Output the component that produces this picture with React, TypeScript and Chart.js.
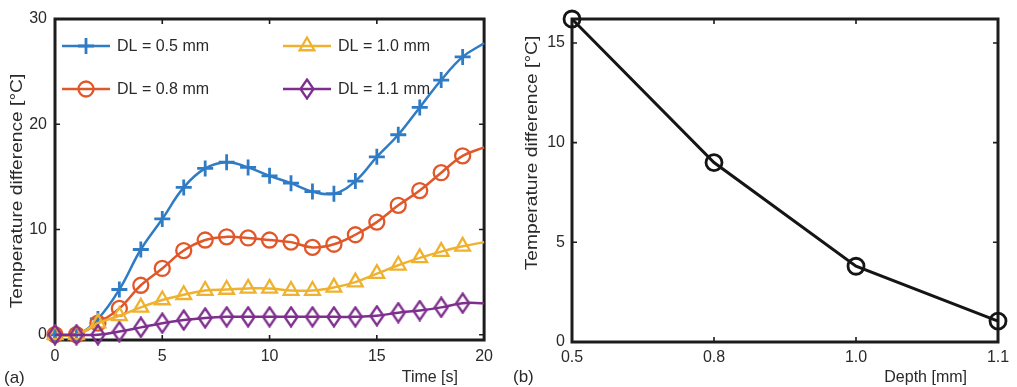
import React, { useEffect, useRef } from 'react';
import { Chart, registerables } from 'chart.js';
import { drawPoint } from 'chart.js/helpers';

Chart.register(...registerables);

// ---------- data ----------
const timeSeconds = [0, 1, 2, 3, 4, 5, 6, 7, 8, 9, 10, 11, 12, 13, 14, 15, 16, 17, 18, 19, 20];
const dl05 = [0, 0, 1.5, 4.3, 8.1, 11.0, 14.0, 15.8, 16.4, 15.9, 15.1, 14.4, 13.6, 13.4, 14.6, 16.9, 19.0, 21.6, 24.2, 26.4, 27.7];
const dl08 = [0, 0, 1.1, 2.5, 4.7, 6.3, 8.0, 9.0, 9.3, 9.2, 9.0, 8.8, 8.3, 8.6, 9.5, 10.7, 12.3, 13.7, 15.4, 17.0, 17.8];
const dl10 = [0, 0, 1.1, 1.8, 2.6, 3.3, 3.8, 4.2, 4.3, 4.4, 4.4, 4.2, 4.2, 4.5, 5.0, 5.8, 6.6, 7.3, 7.9, 8.4, 8.8];
const dl11 = [0, 0, 0, 0.3, 0.7, 1.1, 1.4, 1.6, 1.7, 1.7, 1.7, 1.7, 1.7, 1.7, 1.7, 1.8, 2.1, 2.3, 2.6, 3.0, 3.0];
const seriesLabels = ['DL = 0.5 mm', 'DL = 0.8 mm', 'DL = 1.0 mm', 'DL = 1.1 mm'];
const timeTicks = [0, 5, 10, 15, 20];
const tempTicksA = [0, 10, 20, 30];

const depthLabels = ['0.5', '0.8', '1.0', '1.1'];
const depthTempDiff = [16.2, 9.0, 3.8, 1.05];
const tempTicksB = [0, 5, 10, 15];

// ---------- styles ----------
const FONT = "'Liberation Sans', Arial, sans-serif";
const TEXT = '#2a2a2a';
const FRAME = '#1c1c1c';
const COLORS = ['#2f7bc4', '#e0572a', '#efb22e', '#7e2f8e'];

function makeDiamond(color: string) {
  const c = document.createElement('canvas');
  c.width = 16;
  c.height = 22;
  const g = c.getContext('2d')!;
  g.strokeStyle = color;
  g.lineWidth = 2.3;
  g.beginPath();
  g.moveTo(8, 1.5);
  g.lineTo(14.5, 11);
  g.lineTo(8, 20.5);
  g.lineTo(1.5, 11);
  g.closePath();
  g.stroke();
  return c;
}

const framePlugin = {
  id: 'frame',
  beforeDatasetsDraw(chart: any) {
    const { ctx, chartArea: a, scales } = chart;
    ctx.save();
    ctx.strokeStyle = FRAME;
    ctx.lineWidth = 1.6;
    const tl = 5;
    ctx.beginPath();
    for (const t of scales.x.ticks) {
      const px = scales.x.getPixelForValue(t.value);
      ctx.moveTo(px, a.bottom);
      ctx.lineTo(px, a.bottom - tl);
      ctx.moveTo(px, a.top);
      ctx.lineTo(px, a.top + tl);
    }
    for (const t of scales.y.ticks) {
      const py = scales.y.getPixelForValue(t.value);
      ctx.moveTo(a.left, py);
      ctx.lineTo(a.left + tl, py);
      ctx.moveTo(a.right, py);
      ctx.lineTo(a.right - tl, py);
    }
    ctx.stroke();
    ctx.lineWidth = 3;
    ctx.strokeRect(a.left, a.top, a.right - a.left, a.bottom - a.top);
    ctx.restore();
  },
};

const textsPlugin = {
  id: 'texts',
  afterDraw(chart: any, _args: any, opts: any) {
    const { ctx } = chart;
    for (const it of opts.items || []) {
      ctx.save();
      ctx.font = `${it.size || 16}px ${FONT}`;
      ctx.fillStyle = TEXT;
      ctx.textAlign = it.align || 'left';
      ctx.textBaseline = 'middle';
      ctx.translate(it.x, it.y);
      if (it.rotate) ctx.rotate(-Math.PI / 2);
      if (it.stretch) ctx.scale(it.stretch, 1);
      ctx.fillText(it.text, 0, 0);
      ctx.restore();
    }
  },
};

const legendPlugin = {
  id: 'inlegend',
  afterDatasetsDraw(chart: any, _args: any, opts: any) {
    const { ctx } = chart;
    (opts.items || []).forEach((it: any) => {
      const ds = chart.data.datasets[it.index];
      ctx.save();
      ctx.strokeStyle = ds.borderColor;
      ctx.lineWidth = ds.borderWidth;
      ctx.beginPath();
      ctx.moveTo(it.x, it.y);
      ctx.lineTo(it.x + 48, it.y);
      ctx.stroke();
      ctx.fillStyle = 'rgba(0,0,0,0)';
      ctx.lineWidth = ds.pointBorderWidth;
      drawPoint(ctx, { pointStyle: ds.pointStyle, radius: ds.legendRadius, borderWidth: ds.pointBorderWidth, rotation: 0 } as any, it.x + 24, it.y);
      ctx.font = `16px ${FONT}`;
      ctx.fillStyle = TEXT;
      ctx.textBaseline = 'middle';
      ctx.fillText(ds.label, it.x + 55, it.y + 1);
      ctx.restore();
    });
  },
};

const tickFont = { family: FONT, size: 16 };

export default function App() {
  const leftRef = useRef<HTMLCanvasElement>(null);
  const rightRef = useRef<HTMLCanvasElement>(null);

  useEffect(() => {
    const last = timeSeconds.length - 1;
    const diamond = makeDiamond(COLORS[3]);
    const styles: any[] = ['cross', 'circle', 'triangle', diamond];
    const radii = [8, 7.5, 8.5, 8];
    const values = [dl05, dl08, dl10, dl11];

    const left = new Chart(leftRef.current!, {
      type: 'line',
      data: {
        datasets: values.map((arr, i) => ({
          label: seriesLabels[i],
          data: timeSeconds.map((t, j) => ({ x: t, y: arr[j] })),
          borderColor: COLORS[i],
          backgroundColor: 'rgba(0,0,0,0)',
          pointBorderColor: COLORS[i],
          pointBackgroundColor: 'rgba(0,0,0,0)',
          borderWidth: 2.5,
          pointBorderWidth: i === 0 ? 2.8 : 2.3,
          pointStyle: styles[i],
          pointRadius: (c: any) => (c.dataIndex === last ? 0 : radii[i]),
          legendRadius: radii[i],
          tension: 0.4,
          clip: false,
          order: 3 - i,
        })) as any,
      },
      options: {
        responsive: false,
        animation: false,
        events: [],
        layout: { padding: { left: 0, right: 12, top: 19, bottom: 0 } },
        plugins: {
          legend: { display: false },
          tooltip: { enabled: false },
          texts: {
            items: [
              { text: 'Time [s]', x: 458, y: 378, align: 'right' },
              { text: '(a)', x: 4, y: 378, align: 'left', size: 17 },
              { text: 'Temperature difference [°C]', x: 18, y: 191, align: 'center', rotate: true, stretch: 1.2 },
            ],
          },
          inlegend: {
            items: [
              { index: 0, x: 62, y: 46 },
              { index: 1, x: 62, y: 89 },
              { index: 2, x: 283, y: 46 },
              { index: 3, x: 283, y: 89 },
            ],
          },
        } as any,
        scales: {
          x: {
            type: 'linear',
            min: 0,
            max: 20,
            grid: { display: false, drawTicks: false },
            border: { display: false },
            ticks: { font: tickFont, color: TEXT, padding: 7, maxRotation: 0 },
            afterBuildTicks: (s: any) => { s.ticks = timeTicks.map((v) => ({ value: v })); },
            afterFit: (s: any) => { s.height = 47; },
          },
          y: {
            type: 'linear',
            min: -0.5,
            max: 30,
            grid: { display: false, drawTicks: false },
            border: { display: false },
            ticks: { font: tickFont, color: TEXT, padding: 8 },
            afterBuildTicks: (s: any) => { s.ticks = tempTicksA.map((v) => ({ value: v })); },
            afterFit: (s: any) => { s.width = 55; },
          },
        },
      },
      plugins: [framePlugin, textsPlugin, legendPlugin],
    });

    const right = new Chart(rightRef.current!, {
      type: 'line',
      data: {
        labels: depthLabels,
        datasets: [
          {
            label: 'Temperature difference',
            data: depthTempDiff,
            borderColor: '#151515',
            backgroundColor: 'rgba(0,0,0,0)',
            pointBorderColor: '#151515',
            pointBackgroundColor: 'rgba(0,0,0,0)',
            borderWidth: 3,
            pointBorderWidth: 2.8,
            pointStyle: 'circle',
            pointRadius: 8,
            tension: 0,
            clip: false,
          } as any,
        ],
      },
      options: {
        responsive: false,
        animation: false,
        events: [],
        layout: { padding: { left: 0, right: 19, top: 19, bottom: 0 } },
        plugins: {
          legend: { display: false },
          tooltip: { enabled: false },
          texts: {
            items: [
              { text: 'Depth [mm]', x: 467, y: 378, align: 'right' },
              { text: '(b)', x: 13, y: 377, align: 'left', size: 17 },
              { text: 'Temperature difference [°C]', x: 33, y: 153, align: 'center', rotate: true, stretch: 1.2 },
            ],
          },
        } as any,
        scales: {
          x: {
            type: 'category',
            offset: false,
            grid: { display: false, drawTicks: false, offset: false },
            border: { display: false },
            ticks: { font: tickFont, color: TEXT, padding: 6, maxRotation: 0 },
            afterFit: (s: any) => { s.height = 45; },
          },
          y: {
            type: 'linear',
            min: 0,
            max: 16.2,
            grid: { display: false, drawTicks: false },
            border: { display: false },
            ticks: { font: tickFont, color: TEXT, padding: 7 },
            afterBuildTicks: (s: any) => { s.ticks = tempTicksB.map((v) => ({ value: v })); },
            afterFit: (s: any) => { s.width = 72; },
          },
        },
      },
      plugins: [framePlugin, textsPlugin],
    });

    return () => {
      left.destroy();
      right.destroy();
    };
  }, []);

  return (
    <div style={{ position: 'absolute', left: 0, top: 0, width: 1017, height: 387, background: '#ffffff' }}>
      <canvas ref={leftRef} width={500} height={387} style={{ position: 'absolute', left: 0, top: 0 }} />
      <canvas ref={rightRef} width={517} height={387} style={{ position: 'absolute', left: 500, top: 0 }} />
    </div>
  );
}
